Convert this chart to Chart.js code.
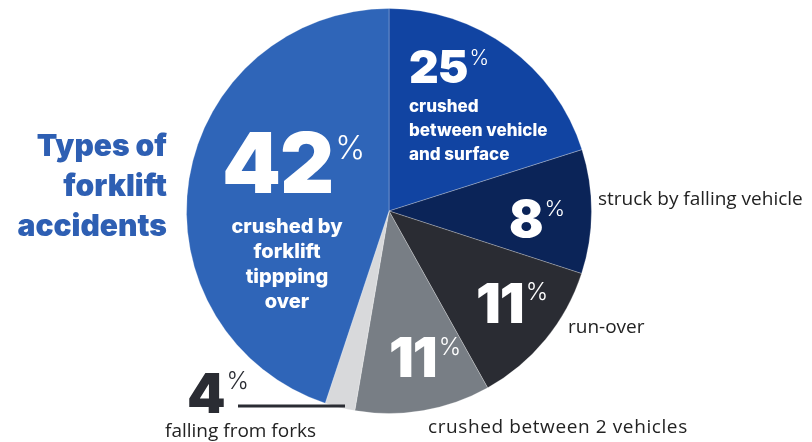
<!DOCTYPE html>
<html>
<head>
<meta charset="utf-8">
<script src="https://cdn.jsdelivr.net/npm/chart.js@4.4.0/dist/chart.umd.min.js"></script>
<style>
  html, body { margin: 0; padding: 0; background: #fff; }
  #wrap { width: 812px; height: 442px; position: relative; }
</style>
</head>
<body>
<div id="wrap"><canvas id="myChart" width="812" height="442"></canvas></div>
<script>
// printed shares (%) and slice sizes as drawn in the picture (% of circle)
var categories = ['crushed between vehicle and surface', 'struck by falling vehicle', 'run-over',
                  'crushed between 2 vehicles', 'falling from forks', 'crushed by forklift tippping over'];
var shares = [25, 8, 11, 11, 4, 42];
var sliceSizes = [20.1, 9.9, 11.9, 10.8, 2.4, 44.9];
var colors = ['#1144a2', '#0b2458', '#2a2c33', '#787e85', '#d8d9db', '#2f65b8'];

var bigFont = 'Inter, "Open Sans", sans-serif';

// big number with small % sign tucked against its top right
function pct(ctx, num, x, base, size, pctTop, pctSize, color) {
  ctx.fillStyle = color;
  ctx.font = '900 ' + size + 'px ' + bigFont;
  ctx.textAlign = 'left';
  ctx.textBaseline = 'alphabetic';
  ctx.letterSpacing = '-1px';
  var s = String(num);
  ctx.fillText(s, x, base);
  var w = ctx.measureText(s).width;
  ctx.letterSpacing = '0px';
  ctx.font = '300 ' + pctSize + 'px ' + bigFont;
  ctx.textBaseline = 'top';
  ctx.fillText('%', x + w + 2, pctTop);
}

function lines(ctx, arr, x, y0, step, font, align, color, spacing) {
  ctx.fillStyle = color;
  ctx.font = font;
  ctx.textAlign = align;
  ctx.textBaseline = 'middle';
  ctx.letterSpacing = spacing || '0px';
  arr.forEach(function (t, i) { ctx.fillText(t, x, y0 + i * step); });
  ctx.letterSpacing = '0px';
}

var labelsPlugin = {
  id: 'labelsPlugin',
  afterDraw: function (chart) {
    var ctx = chart.ctx;
    ctx.save();
    // title
    lines(ctx, ['Types of', 'forklift', 'accidents'], 167, 147, 40,
          '900 30px ' + bigFont, 'right', '#2e5fb3');

    // inside slices
    pct(ctx, shares[5], 222, 193, 84, 133, 32, '#fff');
    lines(ctx, ['crushed by', 'forklift', 'tippping', 'over'], 287, 227, 25,
          '800 20px ' + bigFont, 'center', '#fff');

    pct(ctx, shares[0], 409, 83, 46, 48, 21, '#fff');
    lines(ctx, ['crushed', 'between vehicle', 'and surface'], 409, 107, 24,
          '800 17px ' + bigFont, 'left', '#fff');

    pct(ctx, shares[1], 509, 237, 51, 198, 22, '#fff');
    pct(ctx, shares[2], 476, 323, 55, 281, 24, '#fff');
    pct(ctx, shares[3], 389, 377, 55, 336, 24, '#fff');

    // outside labels
    pct(ctx, shares[4], 187, 413, 55, 370, 24, '#2a2c33');
    ctx.strokeStyle = '#2a2c33';
    ctx.lineWidth = 3;
    ctx.beginPath();
    ctx.moveTo(238, 406);
    ctx.lineTo(345, 406);
    ctx.stroke();

    var small = '400 19px "Open Sans", sans-serif';
    lines(ctx, ['falling from forks'], 165, 432, 0, small, 'left', '#222');
    lines(ctx, ['crushed between 2 vehicles'], 428, 428, 0, small, 'left', '#222', '0.6px');
    lines(ctx, ['struck by falling vehicle'], 598, 200, 0, small, 'left', '#222');
    lines(ctx, ['run-over'], 568, 328, 0, small, 'left', '#222');
    ctx.restore();
  }
};

var ctx = document.getElementById('myChart').getContext('2d');
var myChart = new Chart(ctx, {
  type: 'pie',
  data: {
    labels: categories,
    datasets: [{
      data: sliceSizes,
      backgroundColor: colors,
      borderColor: 'rgba(255,255,255,0.25)',
      borderWidth: 1
    }]
  },
  options: {
    responsive: false,
    animation: false,
    layout: { padding: { left: 186, right: 220, top: 8, bottom: 28 } },
    plugins: {
      legend: { display: false },
      tooltip: { enabled: false },
      title: { display: false }
    }
  },
  plugins: [labelsPlugin]
});
</script>
</body>
</html>
